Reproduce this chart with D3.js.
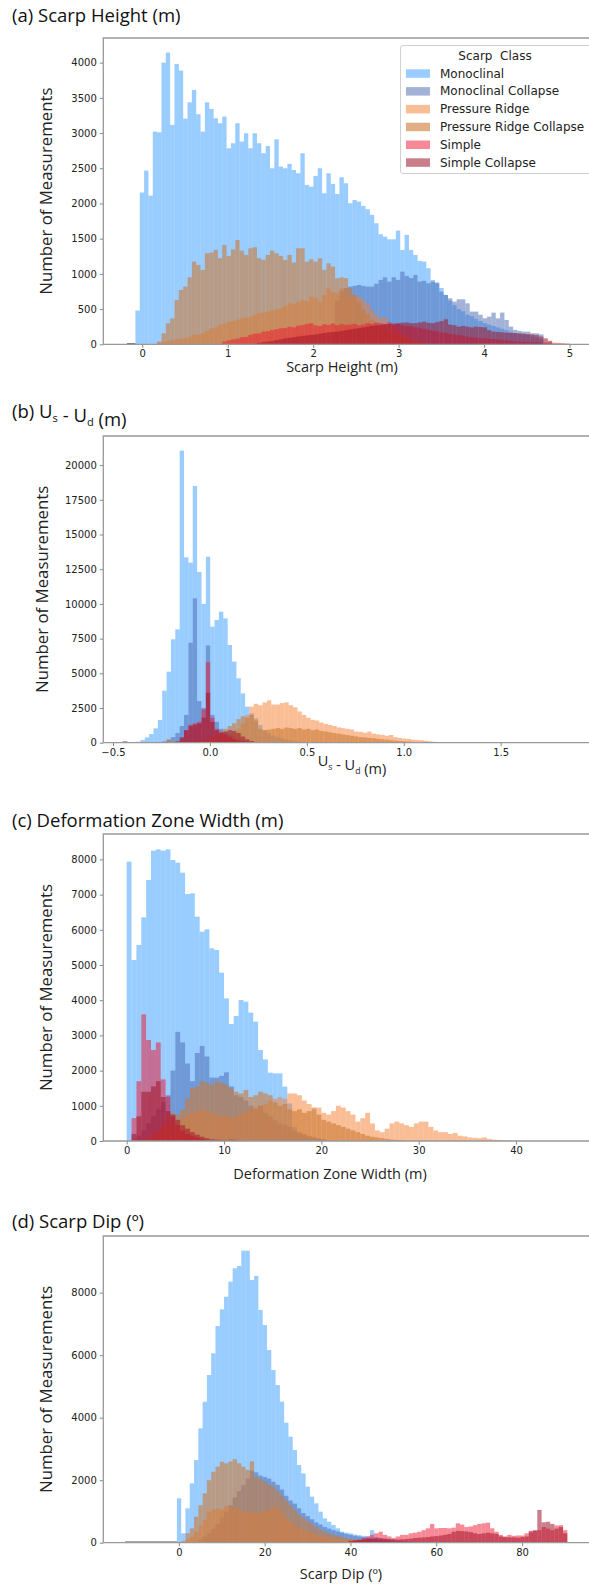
<!DOCTYPE html>
<html>
<head>
<meta charset="utf-8">
<script src="https://cdn.jsdelivr.net/npm/d3@7"></script>
<style>
  body { margin: 0; background: #fff; }
  svg { display: block; }
  .title { font-family: "Open Sans", sans-serif; font-size: 18.5px; fill: #111; }
  .axlab { font-family: "Open Sans", sans-serif; font-size: 14.5px; fill: #222; }
  .ylab { font-family: "Open Sans", sans-serif; font-size: 16.8px; fill: #222; }
  .tick text { font-family: "DejaVu Sans", sans-serif; font-size: 10px; fill: #222; }
  .legend text { font-family: "DejaVu Sans", sans-serif; font-size: 12px; fill: #222; }
</style>
</head>
<body>
<svg width="589" height="1587"></svg>
<script>
var seriesNames = ["Monoclinal", "Monoclinal Collapse", "Pressure Ridge",
                   "Pressure Ridge Collapse", "Simple", "Simple Collapse"];
var seriesColors = ["#3399ff", "#4765b0", "#f57d2d", "#cc7a36", "#f0142d", "#a0142a"];
var seriesOpacity = [0.5, 0.5, 0.5, 0.6, 0.5, 0.55];

// (a) scarp height, bins of 0.0508 m from -0.08
var aBinStart = -0.08, aBinWidth = 0.0508, aDataMin = -0.18;
var aMono = [480, 2155, 2467, 2112, 3021, 3011, 4000, 4143, 3116, 3982, 3887, 3205, 3437, 3613, 3267,
  3021, 3437, 3343, 3210, 3139, 3234, 2784, 2855, 3139, 2879, 2997, 2784, 2997, 2855, 2713, 2817, 2500,
  2912, 2524, 2500, 2562, 2476, 2429, 2713, 2263, 2240, 2391, 2500, 2145, 2429, 2278, 2135, 2372, 2287,
  2003, 2050, 2027, 1965, 1918, 1837, 1719, 1563, 1529, 1491, 1491, 1615, 1340, 1553, 1340, 1269, 1184,
  1174, 1080, 914, 880, 800, 700, 620, 560, 500, 470, 420, 400, 360, 330, 300, 280, 260, 240, 220, 200,
  180, 160, 150, 140, 130, 110, 90, 70];
var aMonoC = [620, 760, 800, 820, 830, 843, 830, 819, 819, 860, 914, 952, 890, 952, 914, 1032, 971, 940,
  985, 890, 900, 866, 890, 866, 748, 701, 653, 606, 639, 639, 582, 464, 464, 420, 369, 393, 450, 369, 450,
  346, 251, 204, 190, 180, 180, 156, 156, 140];
var aPR = [20, 38, 45, 62, 70, 80, 85, 110, 133, 140, 156, 190, 227, 240, 275, 290, 322, 330, 350, 369,
  380, 393, 420, 440, 450, 464, 480, 500, 511, 550, 582, 570, 600, 630, 610, 677, 660, 606, 700, 795, 740,
  724, 795, 750, 677, 690, 677, 630, 582, 488, 417, 370, 380, 298, 250, 200, 150, 110, 80, 50, 30];
var aPRC = [40, 156, 298, 369, 630, 772, 819, 952, 1174, 1127, 1056, 1293, 1302, 1340, 1222, 1411, 1255,
  1349, 1482, 1330, 1269, 1364, 1378, 1222, 1198, 1269, 1330, 1293, 1255, 1198, 1269, 1160, 1364, 1364,
  1174, 1207, 1174, 1222, 1056, 1150, 1103, 937, 952, 940, 800, 700, 600, 500, 420, 350, 300, 250, 200,
  170, 150, 120, 100, 80, 60, 40, 30];
var aSimple = [40, 55, 70, 80, 100, 105, 133, 150, 155, 180, 185, 204, 215, 227, 230, 250, 240, 265, 275,
  290, 298, 270, 260, 285, 275, 295, 270, 285, 275, 280, 290, 270, 280, 300, 290, 310, 300, 290, 310, 280,
  290, 270, 260, 255, 240, 235, 220, 205, 190, 185, 170, 160, 150, 140, 130, 125, 110, 100, 95, 90, 85, 80,
  75, 70, 60, 55, 50, 45, 40, 35, 35, 30, 30, 25, 25, 25, 22, 20, 15, 10];
var aSimpleC = [20, 30, 38, 45, 60, 70, 85, 90, 100, 110, 120, 125, 133, 140, 150, 160, 170, 175, 180, 190,
  200, 210, 220, 230, 240, 250, 260, 270, 275, 285, 290, 295, 300, 305, 310, 300, 300, 310, 320, 305, 300,
  315, 330, 355, 280, 270, 250, 260, 250, 240, 250, 245, 240, 200, 180, 175, 170, 165, 160, 160, 155, 150,
  145, 140, 130, 110, 85, 50];
var aFirstBin = [0, 46, 5, 5, 20, 28];
var aYTicks = [0, 500, 1000, 1500, 2000, 2500, 3000, 3500, 4000];
var aXTicks = [0, 1, 2, 3, 4, 5];

// (b) Us - Ud, bins of 0.0225 m from -0.426
var bBinStart = -0.426, bBinWidth = 0.0225, bDataMin = -0.45;
var bMono = [10, 30, 70, 190, 384, 625, 1033, 1633, 3747, 5116, 7446, 8167, 21040, 13355, 12970, 18495,
  12300, 10000, 13400, 8360, 8840, 9440, 8960, 7040, 5840, 4640, 3555, 2594, 2114, 1753, 1273, 900, 672,
  500, 400, 300, 220, 160, 120, 90, 60, 40, 30, 20, 10];
var bMonoC = [100, 200, 400, 700, 1200, 2000, 7200, 10400, 3000, 2500, 7000, 2000, 1500, 1000, 800, 600,
  400, 300, 200, 150, 100, 60, 30];
var bPR = [50, 100, 200, 400, 700, 1000, 1400, 2000, 2600, 2800, 2700, 2900, 3050, 2750, 2750, 2850, 2900,
  2700, 2550, 2250, 2000, 1800, 1650, 1600, 1450, 1350, 1280, 1200, 1100, 1050, 1000, 950, 800, 780, 720,
  800, 650, 600, 560, 500, 550, 400, 350, 300, 280, 220, 200, 180, 130, 90, 70, 50, 40, 30, 20, 15, 10];
var bPRC = [250, 100, 80, 60, 60, 80, 100, 150, 200, 300, 450, 600, 800, 1000, 1200, 1400, 1700, 1900,
  1800, 2000, 1600, 1000, 900, 950, 1000, 1050, 1000, 1100, 1050, 1000, 1050, 950, 1000, 900, 950, 850,
  800, 750, 700, 650, 600, 550, 500, 450, 400, 380, 350, 320, 280, 250, 220, 180, 150, 120, 100, 80, 60,
  40, 30, 20];
var bSimple = [50, 300, 900, 1300, 1400, 1500, 2400, 5800, 1800, 1000, 800, 600, 400, 250, 150, 80];
var bSimpleC = [30, 100, 400, 900, 1200, 1300, 1400, 1800, 3600, 1500, 900, 700, 800, 900, 850, 700, 450,
  250, 120, 50];
var bFirstBin = [0, 8, 20, 9, 11, 10];
var bYTicks = [0, 2500, 5000, 7500, 10000, 12500, 15000, 17500, 20000];
var bXTicks = [-0.5, 0, 0.5, 1, 1.5];

// (c) deformation zone width, bins of 0.5 m from 0
var cBinStart = 0, cBinWidth = 0.5, cDataMin = 0;
var cMono = [7936, 5142, 5568, 6354, 7415, 8248, 8286, 8248, 8286, 7983, 7907, 7623, 7017, 7036, 6373,
  5947, 6013, 5474, 5426, 4782, 4053, 3324, 3551, 4006, 3958, 3646, 3390, 2585, 2320, 1941, 1922, 1922,
  1544, 1070, 400, 200, 150, 100, 80, 60, 40, 30, 20];
var cMonoC = [50, 150, 300, 500, 700, 900, 1100, 1300, 2000, 3100, 2800, 2200, 1700, 2500, 2700, 2400,
  1800, 1800, 1850, 1950, 1550, 1300, 1250, 1150, 1000, 900, 1000, 800, 700, 600, 500, 450, 400, 300, 250,
  200, 150, 120, 80, 50];
var cPR = [20, 50, 80, 150, 250, 350, 450, 500, 550, 650, 750, 800, 850, 900, 850, 800, 750, 700, 700,
  650, 700, 750, 850, 900, 950, 1000, 1050, 1150, 1200, 1250, 1200, 1350, 1350, 1300, 1150, 1050, 900,
  950, 800, 750, 850, 1000, 950, 850, 750, 550, 650, 800, 500, 300, 250, 350, 500, 550, 500, 450, 400, 500,
  550, 550, 400, 300, 250, 250, 200, 230, 150, 130, 100, 90, 80, 100, 60, 40, 30, 20, 10, 10, 8, 8, 6, 6,
  5, 5, 4, 4, 3, 3, 2, 2, 2];
var cPRC = [50, 100, 200, 300, 500, 700, 800, 750, 900, 1200, 1500, 1550, 1700, 1650, 1600, 1700, 1650,
  1600, 1500, 1400, 1350, 1450, 1250, 1300, 1400, 1350, 1300, 1100, 1000, 1050, 900, 850, 900, 800, 850,
  950, 750, 600, 550, 500, 450, 400, 350, 300, 250, 200, 150, 120, 100, 80, 60, 40, 30, 20];
var cSimple = [650, 1700, 3600, 2870, 2585, 2800, 1750, 1260, 700, 450, 300, 200, 150, 100, 60, 30];
var cSimpleC = [200, 700, 1400, 1400, 1550, 1700, 1250, 850, 750, 600, 450, 350, 250, 180, 120, 80, 50, 40,
  30, 30, 40, 30, 20, 10];
var cFirstBin = [0, 1, 2, 3, 1, 1];
var cYTicks = [0, 1000, 2000, 3000, 4000, 5000, 6000, 7000, 8000];
var cXTicks = [0, 10, 20, 30, 40];

// (d) scarp dip, bins of 1 degree from -0.45
var dBinStart = -0.45, dBinWidth = 1, dDataMin = -12.5;
var dMono = [1419, 299, 1099, 1899, 2645, 3659, 4512, 5365, 6059, 6933, 7467, 7872, 8352, 8779, 8853,
  9344, 9344, 8405, 8533, 7445, 6965, 6165, 5525, 5045, 4512, 3840, 3392, 2965, 2485, 2219, 1792, 1472,
  1259, 992, 779, 672, 565, 459, 352, 320, 300, 260, 240, 220, 200, 400, 180, 150, 120, 100, 80, 60, 50,
  40, 30, 25, 20, 15, 10];
var dMonoC = [100, 200, 300, 450, 600, 800, 1000, 1200, 1450, 1650, 1850, 2050, 2300, 2250, 2150, 2100,
  2050, 1950, 1850, 1700, 1500, 1350, 1250, 1100, 950, 850, 750, 650, 580, 500, 450, 400, 360, 320, 280,
  250, 220, 200, 180, 150, 130, 100, 80, 60, 50, 40];
var dPR = [100, 192, 352, 565, 725, 992, 1067, 1099, 1060, 1173, 1130, 1131, 1045, 992, 1010, 990, 939,
  980, 1024, 1050, 1152, 1099, 939, 779, 672, 565, 480, 420, 360, 300, 260, 220, 190, 160, 140, 120, 100,
  90, 80, 70, 60, 50, 40, 30, 20, 15, 10];
var dPRC = [50, 300, 460, 830, 1200, 1580, 2000, 2270, 2430, 2590, 2540, 2600, 2670, 2540, 2430, 2330,
  2600, 2100, 2050, 1950, 1850, 1800, 1650, 1500, 1350, 1200, 1050, 900, 800, 700, 600, 500, 420, 350,
  300, 250, 220, 180, 150, 120, 100, 80, 60, 50, 40, 30, 20];
var dSimple = [60, 80, 100, 150, 200, 250, 300, 350, 250, 200, 150, 200, 250, 250, 300, 320, 350, 400,
  460, 600, 460, 470, 470, 460, 480, 620, 580, 500, 520, 560, 600, 620, 640, 460, 350, 250, 200, 250, 220,
  230, 230, 300, 330, 380, 400, 500, 450, 400, 550, 560, 400];
var dSimpleC = [50, 60, 80, 100, 120, 130, 150, 140, 130, 120, 110, 100, 110, 120, 130, 150, 160, 170,
  180, 200, 210, 230, 250, 280, 350, 380, 370, 360, 340, 300, 280, 300, 320, 300, 280, 200, 180, 170, 170,
  160, 180, 200, 380, 400, 1050, 650, 670, 600, 450, 500, 300];
var dFirstBin = [0, 5, 2, 1, 40, 40];
var dYTicks = [0, 2000, 4000, 6000, 8000];
var dXTicks = [0, 20, 40, 60, 80];

var svg = d3.select("svg");
var plotRight = 592;

var panels = [
  { title: "(a) Scarp Height (m)", xlabel: "Scarp Height (m)", titleY: 21.5,
    xlabX: 342, xlabDy: 28, ylabX: 52,
    top: 38, bottom: 344.3, xdom: [-0.456, 5.263], ymax: 4350,
    binStart: aBinStart, binWidth: aBinWidth, dataMin: aDataMin,
    series: [aMono, aMonoC, aPR, aPRC, aSimple, aSimpleC], first: aFirstBin,
    yticks: aYTicks, xticks: aXTicks, xfmt: d3.format("d"), legend: true },
  { title: "(b) U_s - U_d (m)", xlabel: "U_s - U_d (m)", titleY: 418,
    xlabX: 352, xlabDy: 23, ylabX: 47.5,
    top: 436, bottom: 742.7, xdom: [-0.55, 1.971], ymax: 22097,
    binStart: bBinStart, binWidth: bBinWidth, dataMin: bDataMin,
    series: [bMono, bMonoC, bPR, bPRC, bSimple, bSimpleC], first: bFirstBin,
    yticks: bYTicks, xticks: bXTicks, xfmt: function(d) { return d3.format(".1f")(d).replace("-", "\u2212"); } },
  { title: "(c) Deformation Zone Width (m)", xlabel: "Deformation Zone Width (m)", titleY: 827,
    xlabX: 330, xlabDy: 38, ylabX: 52,
    top: 834, bottom: 1141, xdom: [-2.4, 47.8], ymax: 8722,
    binStart: cBinStart, binWidth: cBinWidth, dataMin: cDataMin,
    series: [cMono, cMonoC, cPR, cPRC, cSimple, cSimpleC], first: cFirstBin,
    yticks: cYTicks, xticks: cXTicks, xfmt: d3.format("d") },
  { title: "(d) Scarp Dip (\u00BA)", xlabel: "Scarp Dip (\u00BA)", titleY: 1228,
    xlabX: 341, xlabDy: 36, ylabX: 52,
    top: 1236, bottom: 1542.7, xdom: [-17.6, 96.3], ymax: 9814,
    binStart: dBinStart, binWidth: dBinWidth, dataMin: dDataMin,
    series: [dMono, dMonoC, dPR, dPRC, dSimple, dSimpleC], first: dFirstBin,
    yticks: dYTicks, xticks: dXTicks, xfmt: d3.format("d") }
];

// "U_s" style labels get real subscripts
var writeLabel = function(sel, txt) {
  var parts = txt.split(/(_[a-z])/);
  parts.forEach(function(p) {
    if (p.charAt(0) === "_") {
      sel.append("tspan").attr("dy", 4).attr("font-size", "0.6em").text(p.slice(1));
      sel.append("tspan").attr("dy", -4).text("");
    } else if (p.length) {
      sel.append("tspan").text(p);
    }
  });
};

var drawPanel = function(p, pi) {
  var left = 103.3;
  var x = d3.scaleLinear().domain(p.xdom).range([left, plotRight]);
  var y = d3.scaleLinear().domain([0, p.ymax]).range([p.bottom, p.top]);
  var g = svg.append("g");

  g.append("clipPath").attr("id", "clip" + pi)
    .append("rect").attr("x", left).attr("y", p.top)
    .attr("width", plotRight - left).attr("height", p.bottom - p.top);

  var bars = g.append("g").attr("clip-path", "url(#clip" + pi + ")");

  // empty bins drawn as a flat line along the base
  bars.append("line")
    .attr("x1", x(p.dataMin)).attr("x2", x(p.binStart))
    .attr("y1", p.bottom - 0.5).attr("y2", p.bottom - 0.5)
    .attr("stroke", "#555").attr("stroke-width", 1.2);

  p.series.forEach(function(counts, si) {
    var data = counts.map(function(v, i) {
      var b = p.first[si] + i;
      return { x0: p.binStart + b * p.binWidth, x1: p.binStart + (b + 1) * p.binWidth, v: v };
    });
    bars.append("g").selectAll("rect")
      .data(data)
      .enter().append("rect")
        .attr("x", function(d) { return x(d.x0); })
        .attr("width", function(d) { return x(d.x1) - x(d.x0); })
        .attr("y", function(d) { return y(d.v); })
        .attr("height", function(d) { return p.bottom - y(d.v); })
        .attr("fill", seriesColors[si])
        .attr("fill-opacity", seriesOpacity[si]);
  });

  var yAxis = g.append("g")
    .attr("transform", "translate(" + left + ",0)")
    .call(d3.axisLeft(y).tickValues(p.yticks).tickSize(3.5).tickPadding(3).tickFormat(d3.format("d")));
  var xAxis = g.append("g")
    .attr("transform", "translate(0," + p.bottom + ")")
    .call(d3.axisBottom(x).tickValues(p.xticks).tickSize(3.5).tickPadding(2.5).tickFormat(p.xfmt));
  [yAxis, xAxis].forEach(function(a) {
    a.select(".domain").remove();
    a.selectAll(".tick line").attr("stroke", "#888").attr("stroke-width", 1);
  });

  // frame: left, top and bottom (right side runs off the picture)
  g.append("path")
    .attr("d", "M" + plotRight + "," + p.top + "H" + left + "V" + p.bottom + "H" + plotRight)
    .attr("fill", "none").attr("stroke", "#999").attr("stroke-width", 1.3);

  var t = svg.append("text").attr("class", "title").attr("x", 12).attr("y", p.titleY);
  writeLabel(t, p.title);

  var xl = svg.append("text").attr("class", "axlab")
    .attr("x", p.xlabX).attr("y", p.bottom + p.xlabDy)
    .attr("text-anchor", "middle");
  writeLabel(xl, p.xlabel);

  svg.append("text").attr("class", "ylab")
    .attr("transform", "translate(" + p.ylabX + "," + ((p.top + p.bottom) / 2) + ") rotate(-90)")
    .attr("text-anchor", "middle")
    .text("Number of Measurements");

  if (p.legend) {
    var lg = svg.append("g").attr("class", "legend");
    lg.append("rect").attr("x", 400.5).attr("y", 45.5).attr("width", 200).attr("height", 128)
      .attr("rx", 2.5).attr("fill", "#fff").attr("fill-opacity", 0.85)
      .attr("stroke", "#d0d0d0").attr("stroke-width", 1);
    lg.append("text").attr("x", 495).attr("y", 59.5).attr("text-anchor", "middle")
      .attr("xml:space", "preserve").text("Scarp  Class");
    var rows = lg.selectAll(".row").data(seriesNames).enter().append("g")
      .attr("transform", function(d, i) { return "translate(0," + (73.3 + i * 17.8) + ")"; });
    rows.append("rect").attr("x", 406).attr("y", -4).attr("width", 24).attr("height", 8.5)
      .attr("fill", function(d, i) { return seriesColors[i]; })
      .attr("fill-opacity", function(d, i) { return seriesOpacity[i]; });
    rows.append("text").attr("x", 440).attr("y", 4.3).text(function(d) { return d; });
  }
};

panels.forEach(drawPanel);
</script>
</body>
</html>
